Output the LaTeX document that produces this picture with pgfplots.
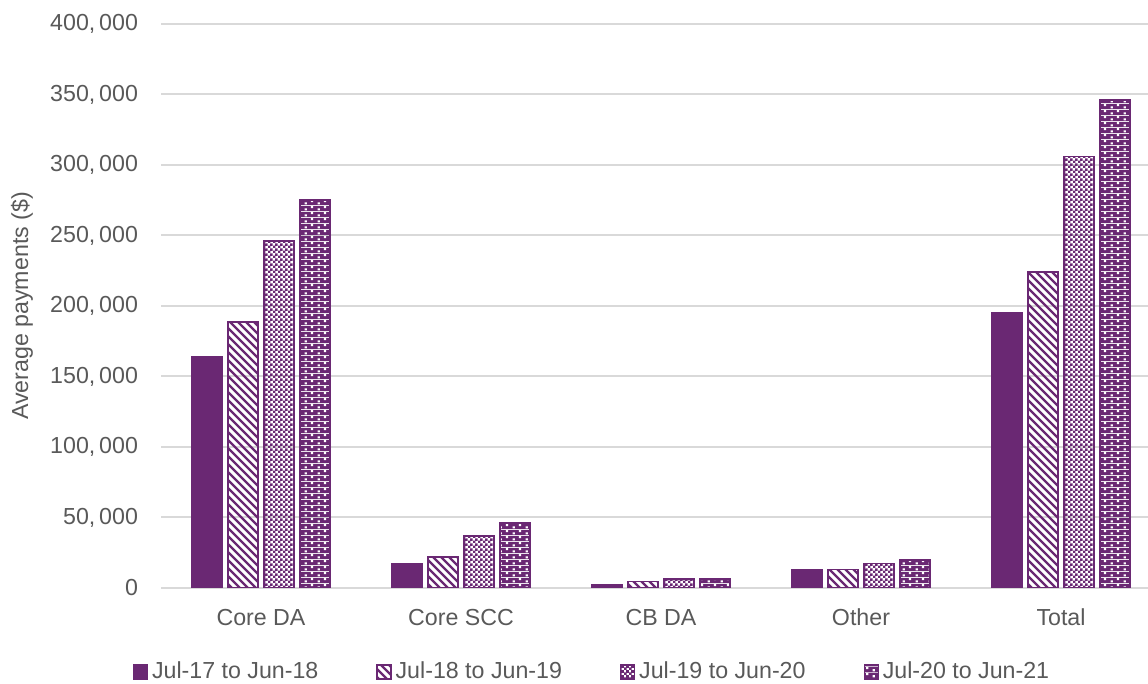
\documentclass[border=0pt]{standalone}
\usepackage{pgfplots}
\pgfplotsset{compat=1.18}
\usepackage{fontspec}
\setmainfont{Liberation Sans}
\usetikzlibrary{patterns}
\definecolor{purp}{HTML}{6A2873}
\definecolor{txt}{HTML}{595959}
\definecolor{grd}{HTML}{D9D9D9}

\pgfdeclarepatternformonly{diagx}{\pgfqpoint{-1pt}{-1pt}}{\pgfqpoint{5pt}{5pt}}{\pgfqpoint{4pt}{4pt}}{%
  \pgfsetlinewidth{1.1pt}%
  \pgfpathmoveto{\pgfqpoint{-0.1pt}{4.1pt}}%
  \pgfpathlineto{\pgfqpoint{4.1pt}{-0.1pt}}%
  \pgfusepath{stroke}}

\pgfdeclarepatternformonly{checker}{\pgfpointorigin}{\pgfqpoint{2.4pt}{2.4pt}}{\pgfqpoint{2.4pt}{2.4pt}}{%
  \pgfpathrectangle{\pgfqpoint{-0.1pt}{-0.1pt}}{\pgfqpoint{1.4pt}{1.4pt}}%
  \pgfpathrectangle{\pgfqpoint{1.1pt}{1.1pt}}{\pgfqpoint{1.3pt}{1.3pt}}%
  \pgfusepath{fill}}

\pgfdeclarepatterninherentlycolored{wdots}{\pgfpointorigin}{\pgfqpoint{6.6pt}{2.8pt}}{\pgfqpoint{6.6pt}{2.8pt}}{%
  \pgfsetfillcolor{purp}%
  \pgfpathrectangle{\pgfpointorigin}{\pgfqpoint{6.6pt}{2.8pt}}%
  \pgfusepath{fill}%
  \pgfsetfillcolor{white}%
  \pgfpathrectangle{\pgfqpoint{0.9pt}{0.3pt}}{\pgfqpoint{1.15pt}{1.15pt}}%
  \pgfpathrectangle{\pgfqpoint{4.2pt}{1.5pt}}{\pgfqpoint{1.15pt}{1.15pt}}%
  \pgfusepath{fill}}

\newcommand{\lblfont}{\fontsize{11.6}{14}\selectfont}

\begin{document}
\begin{tikzpicture}
\useasboundingbox (0pt,0pt) rectangle (574pt,342pt);
\begin{axis}[
  at={(80.5pt,48pt)}, anchor=south west,
  scale only axis, width=493.5pt, height=282pt,
  ymin=0, ymax=400000, ytick={0,50000,100000,150000,200000,250000,300000,350000,400000},
  yticklabels={0,{50,\,000},{100,\,000},{150,\,000},{200,\,000},{250,\,000},{300,\,000},{350,\,000},{400,\,000}},
  xmin=-0.5, xmax=4.435,
  xtick={0,1,2,3,4},
  xticklabels={Core DA,Core SCC,CB DA,Other,Total},
  ybar=3pt, bar width=15pt,
  axis x line*=bottom, axis y line*=left,
  y axis line style={draw=none},
  x axis line style={draw=grd, line width=1pt},
  major tick length=0pt,
  ymajorgrids, grid style={draw=grd, line width=1pt},
  scaled y ticks=false,
  tick label style={font=\lblfont, text=txt},
  yticklabel style={xshift=-8pt},
  xticklabel style={yshift=-7pt},
  ylabel={Average payments (\$)},
  every axis y label/.style={at={(axis description cs:-0.1408,0.5)}, rotate=90, anchor=center, font=\lblfont, text=txt},
  legend style={at={(axis description cs:0.4377,-0.149)}, anchor=center, draw=none, fill=none,
    legend columns=4, font=\lblfont, text=txt,
    /tikz/every even column/.append style={column sep=27pt}},
  legend image code/.code={\draw[#1, line width=0.6pt] (0pt,-3.5pt) rectangle (7pt,3.5pt);},
]
\addplot[fill=purp, draw=purp, line width=0.8pt] coordinates {(0,164000) (1,17500) (2,2000) (3,13200) (4,195000)};
\addplot[pattern=diagx, pattern color=purp, draw=purp, line width=0.8pt] coordinates {(0,188500) (1,22000) (2,4500) (3,13000) (4,224000)};
\addplot[pattern=checker, pattern color=purp, draw=purp, line width=0.8pt] coordinates {(0,246000) (1,37000) (2,6500) (3,17500) (4,306000)};
\addplot[pattern=wdots, draw=purp, line width=0.8pt] coordinates {(0,275000) (1,46000) (2,6500) (3,20000) (4,346000)};
\legend{Jul-17 to Jun-18, Jul-18 to Jun-19, Jul-19 to Jun-20, Jul-20 to Jun-21}
\end{axis}
\end{tikzpicture}
\end{document}
